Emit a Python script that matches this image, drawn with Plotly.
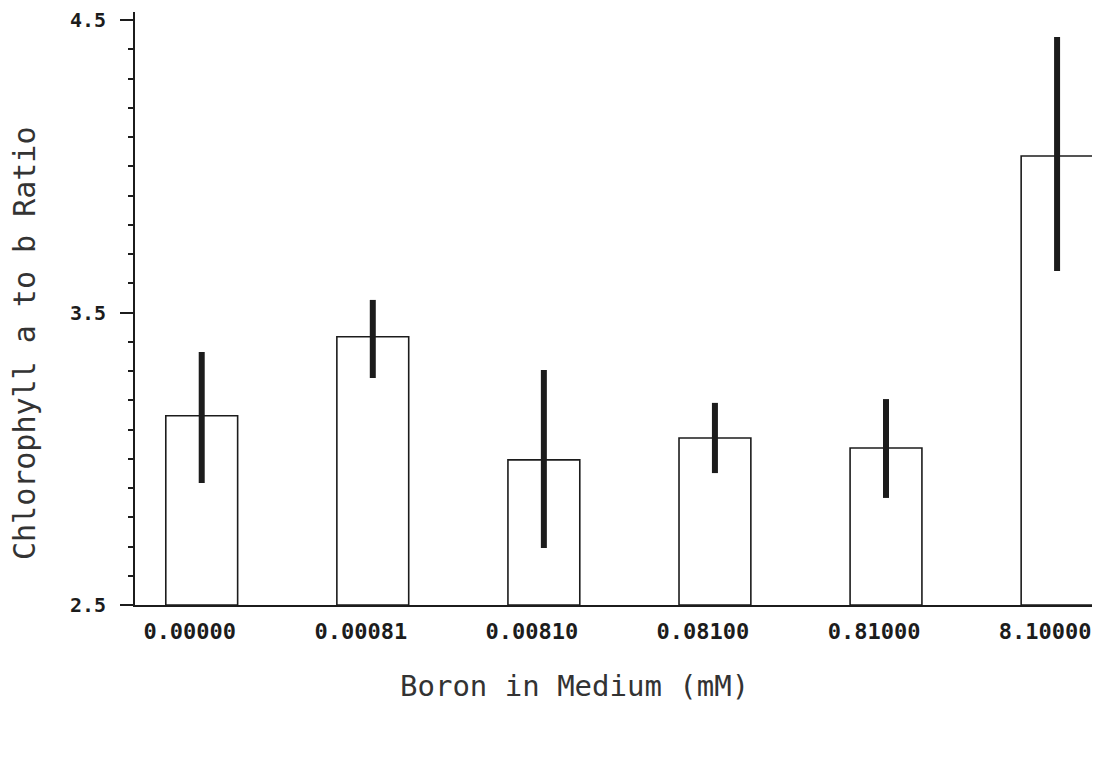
import plotly.graph_objects as go

boron_labels = ["0.00000", "0.00081", "0.00810", "0.08100", "0.81000", "8.10000"]
positions = [0, 1, 2, 3, 4, 5]
ratio_mean = [3.147, 3.417, 2.996, 3.071, 3.037, 4.035]
err_plus = [0.218, 0.126, 0.307, 0.120, 0.167, 0.407]
err_minus = [0.230, 0.141, 0.301, 0.120, 0.171, 0.393]
y_tick_vals = [2.5, 3.5, 4.5]
y_tick_text = ["2.5", "3.5", "4.5"]
label_shift = -0.07
x_title = "Boron in Medium (mM)"
y_title = "Chlorophyll a to b Ratio"

mono = "DejaVu Sans Mono"
ink = "#1c1c1c"

# page body has an 8px margin; plot area target on screen: x 135..1093, y 12..605
PL, PR, PT, PB = 135, 1093, 12, 605
PW, PH = PR - PL, PB - PT
Y_TOP = 4.5 + 8 / 292.5

fig = go.Figure()
fig.add_trace(go.Bar(
    x=positions,
    y=[m - 2.5 for m in ratio_mean],
    base=2.5,
    width=0.42,
    marker=dict(color="white", line=dict(color=ink, width=1.6)),
    error_y=dict(type="data", symmetric=False, array=err_plus, arrayminus=err_minus,
                 color=ink, thickness=6, width=0),
    showlegend=False,
    hoverinfo="skip",
    cliponaxis=False,
))

fig.update_layout(
    width=1092, height=750,
    margin=dict(l=PL - 8, r=1092 - (PL - 8) - PW, t=PT - 8, b=750 - (PT - 8) - PH),
    paper_bgcolor="white", plot_bgcolor="white",
    xaxis=dict(
        range=[-0.39, 5.21],
        tickvals=[p + label_shift for p in positions],
        ticktext=boron_labels,
        ticks="", showgrid=False, zeroline=False, automargin=False,
        showline=True, linecolor=ink, linewidth=2,
        tickfont=dict(family=mono, size=22, color=ink, weight="bold"),
        ticklabelstandoff=6, ticklabeloverflow="allow",
    ),
    yaxis=dict(
        range=[2.5, Y_TOP],
        tickvals=y_tick_vals, ticktext=y_tick_text,
        ticks="outside", ticklen=13, tickwidth=2, tickcolor=ink,
        minor=dict(dtick=0.1, ticks="outside", ticklen=5, tickwidth=2, tickcolor=ink, showgrid=False),
        showgrid=False, zeroline=False, automargin=False,
        showline=True, linecolor=ink, linewidth=2,
        tickfont=dict(family=mono, size=20, color=ink, weight="bold"),
        ticklabelstandoff=10, ticklabeloverflow="allow",
    ),
    annotations=[
        dict(text=x_title, xref="paper", yref="paper", x=(574 - PL) / PW, y=-(686 - PB) / PH,
             xanchor="center", yanchor="middle", showarrow=False,
             font=dict(family=mono, size=29, color="#333")),
        dict(text=y_title, xref="paper", yref="paper", x=-(PL - 25) / PW, y=(PB - 344) / PH,
             xanchor="center", yanchor="middle", showarrow=False, textangle=-90,
             font=dict(family=mono, size=30, color="#333")),
    ],
)

fig.write_html("out.html")
